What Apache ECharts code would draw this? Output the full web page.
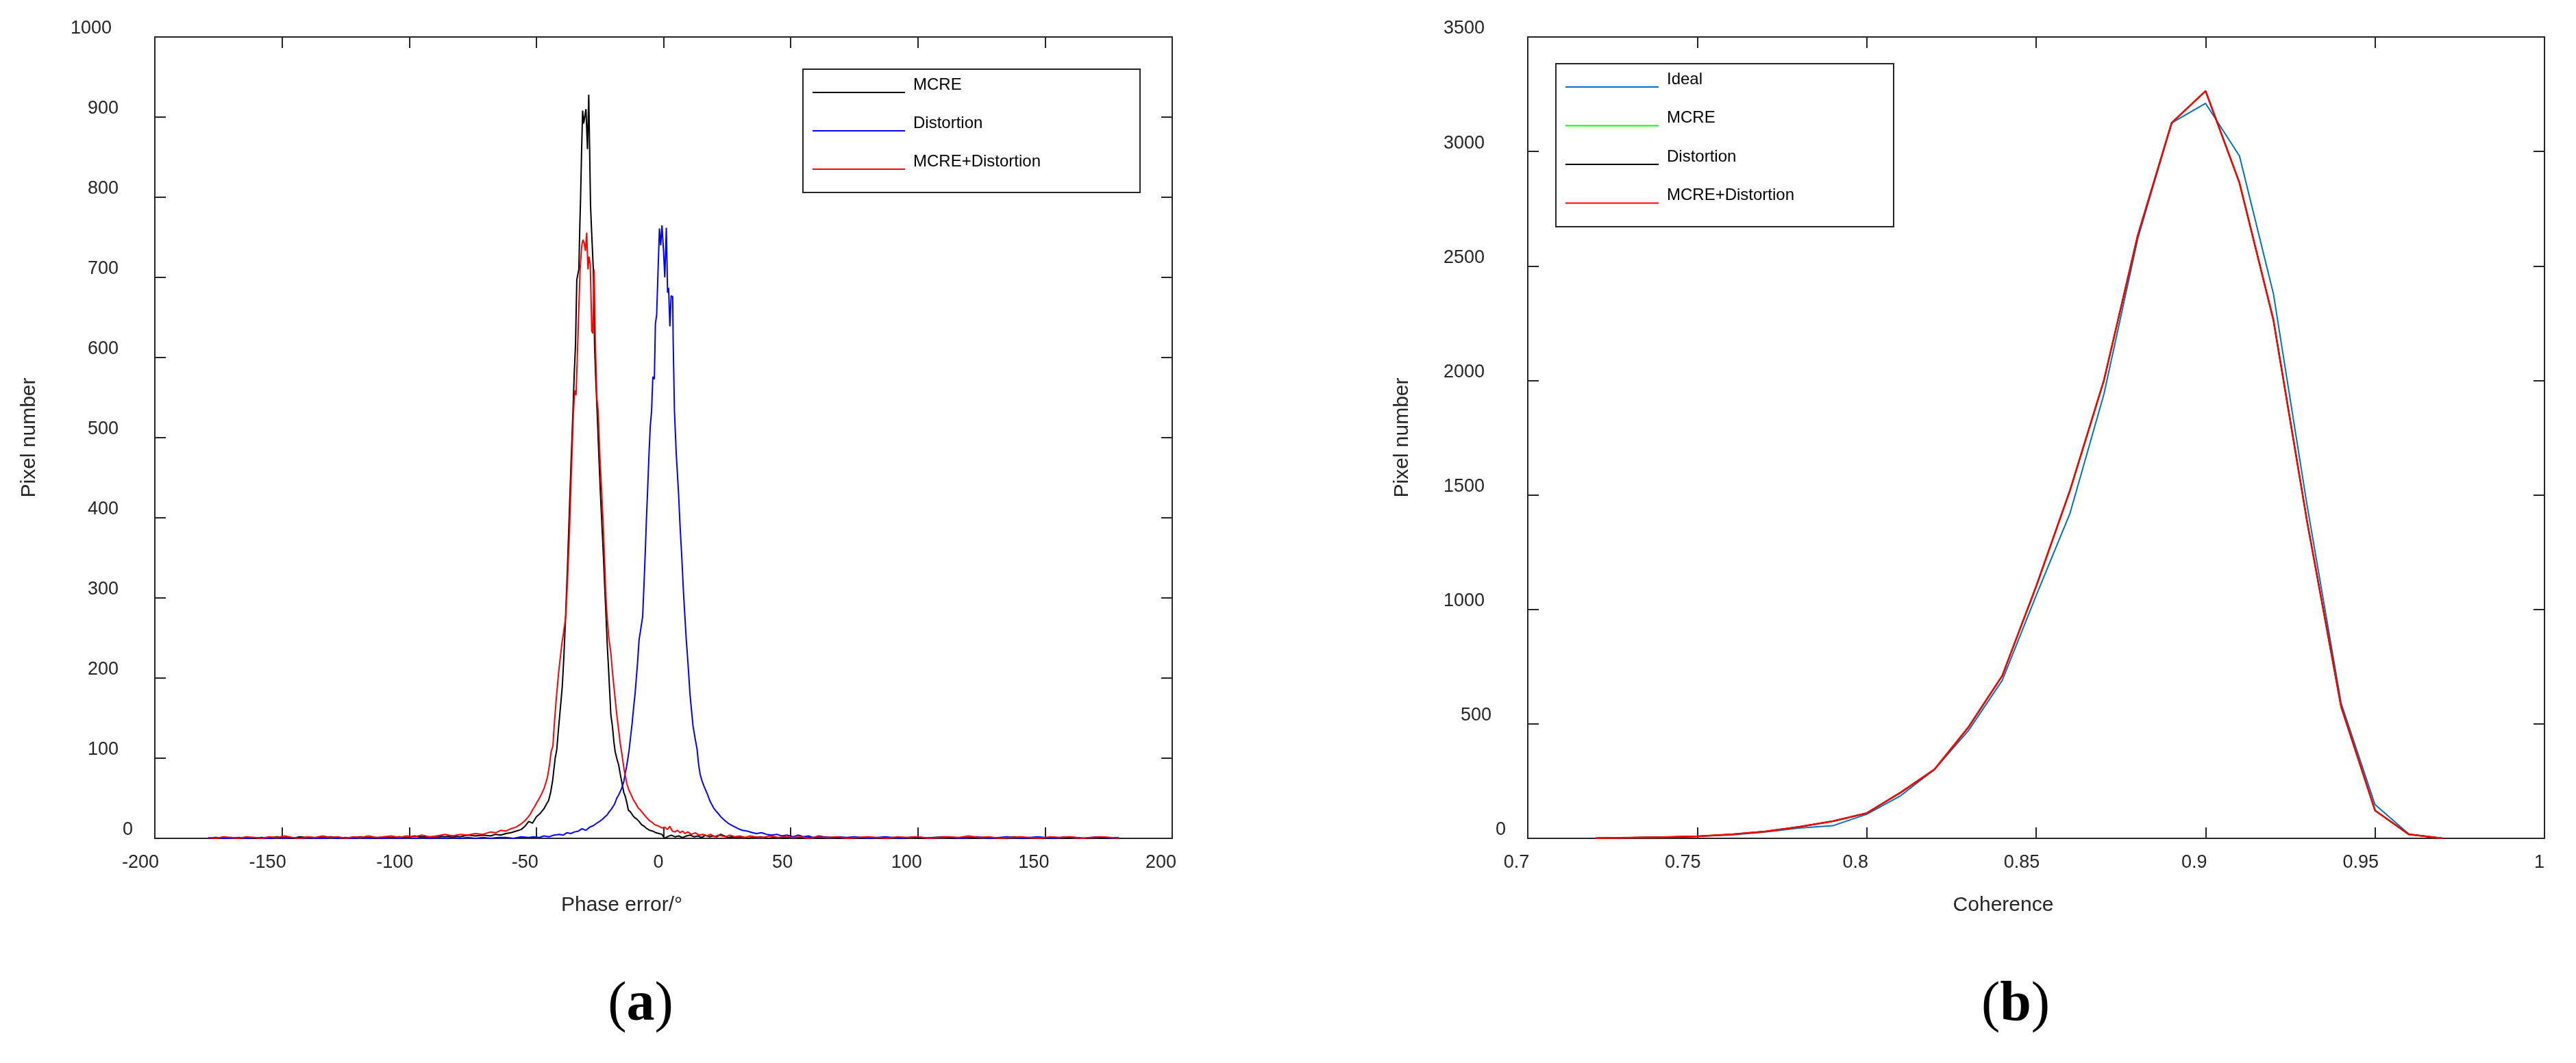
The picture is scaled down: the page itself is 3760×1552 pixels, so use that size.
<!DOCTYPE html>
<html><head><meta charset="utf-8">
<script src="https://cdn.jsdelivr.net/npm/echarts@6/dist/echarts.min.js"></script>
<style>html,body{margin:0;padding:0;background:#fff}#c{width:3760px;height:1552px}</style>
</head><body><div id="c"></div>
<script>
// ---------- Panel (a): phase error histograms ([phase error in deg, pixel number]) ----------
const mcrePhase = [
[-179,0],[-176,1],[-173,0],[-170,1],[-167,0],[-164,1],[-161,0],[-158,1],[-155,0],[-152,2],[-149,1],[-146,0],[-143,2],[-140,1],[-137,0],[-134,1],[-131,2],[-128,1],[-125,0],[-122,1],[-119,2],[-116,1],[-113,0],[-110,2],[-107,1],[-104,2],[-101,1],[-98,3],[-95,2],[-92,1],[-89,3],[-86,2],[-83,3],[-80,2],[-77,4],[-74,3],[-71,4],[-68,3],[-66,5],[-64,4],[-62,6],[-60,7],[-58,9],[-56,11],[-54.5,15],[-53,21],[-51.5,19],[-50,27],[-48.5,31],[-47,37],[-46,43],[-45.2,47],[-44.4,57],[-43.6,72],[-42.6,100],[-42,110],[-41.2,140],[-40.4,168],[-39.8,190],[-39.2,225],[-38.5,277],[-37.8,335],[-37.1,400],[-36.4,465],[-35.6,533],[-35.1,580],[-34.6,616],[-34.1,697],[-33.3,710],[-32.9,765],[-32.6,800],[-32.2,860],[-31.8,908],[-31.4,892],[-31.0,900],[-30.5,910],[-29.9,860],[-29.4,928],[-28.7,790],[-28.2,752],[-27.6,710],[-27.1,613],[-26.6,570],[-26.1,533],[-25.4,475],[-24.8,430],[-24.2,390],[-23.6,350],[-23.1,312],[-22.6,277],[-22.1,240],[-21.6,211],[-21.2,185],[-20.7,154],[-20.1,140],[-19.5,120],[-19.0,108],[-18.4,100],[-17.6,91],[-17.0,80],[-16.4,70],[-15.6,57],[-15.0,52],[-14.4,44],[-13.8,35],[-13.0,33],[-12.2,29],[-11.4,26],[-10.5,24],[-9.6,21],[-8.6,17],[-7.6,15],[-6.5,12],[-5.4,10],[-4.2,9],[-3.0,7],[-1.8,6],[-0.6,5],[0.4,0],[1.5,2],[3,4],[4.5,2],[6,3],[7.5,1],[9,3],[10.5,4],[12,2],[13.5,3],[15,1],[16.5,4],[18,2],[19.5,3],[21,2],[22.5,5],[24,3],[25.5,1],[27,2],[29,1],[31,2],[33,0],[35,1],[38,2],[41,0],[44,1],[47,0],[50,1],[54,0],[58,1],[62,0],[66,1],[70,0],[74,1],[78,0],[82,1],[86,0],[90,1],[94,0],[98,1],[102,0],[106,1],[110,2],[114,0],[118,1],[122,0],[126,1],[130,0],[134,1],[138,2],[142,0],[146,1],[150,0],[154,1],[158,0],[162,1],[166,0],[170,1],[174,0],[178,1]
];
const distPhase = [
[-179,0],[-176,1],[-173,0],[-170,0],[-167,1],[-164,0],[-161,1],[-158,0],[-155,0],[-152,1],[-149,0],[-146,1],[-143,0],[-140,1],[-137,0],[-134,0],[-131,1],[-128,0],[-125,1],[-122,0],[-119,1],[-116,0],[-113,1],[-110,0],[-107,1],[-104,0],[-101,1],[-98,0],[-95,1],[-92,0],[-89,1],[-86,0],[-83,1],[-80,0],[-77,1],[-74,0],[-71,1],[-68,0],[-65,1],[-62,1],[-59,0],[-56,2],[-53,1],[-51,2],[-49,1],[-47,3],[-45,2],[-43,4],[-41,5],[-39.5,4],[-38,7],[-36.5,6],[-35,8],[-33.5,9],[-32,12],[-30.5,10],[-29,14],[-27.5,16],[-26.2,19],[-25.2,21],[-24,24],[-23,27],[-22.2,29],[-21.4,33],[-20.6,36],[-19.8,40],[-19.2,43],[-18.4,50],[-17.5,55],[-16.5,62],[-15.6,71],[-15,82],[-14.5,90],[-14,100],[-13.5,111],[-12.9,128],[-12.3,145],[-11.7,165],[-11.2,180],[-10.7,200],[-10.3,215],[-9.6,248],[-8.9,262],[-8.2,277],[-7.7,315],[-7.2,355],[-6.7,400],[-6.3,431],[-5.7,480],[-5.2,515],[-4.7,533],[-4.2,576],[-3.6,573],[-3.2,642],[-2.7,653],[-2.2,704],[-1.6,761],[-1.1,740],[-0.6,765],[0,733],[0.5,700],[1.1,762],[1.6,681],[2.0,687],[2.5,639],[3.0,677],[3.6,676],[3.8,619],[4.3,533],[5.0,480],[5.9,431],[6.5,390],[7.2,350],[7.8,310],[8.4,277],[8.9,250],[9.4,228],[9.9,205],[10.4,180],[11.0,160],[11.6,140],[12.4,125],[13.2,111],[13.8,92],[14.4,80],[15.1,72],[15.8,66],[16.6,60],[17.4,54],[18.2,47],[19,42],[19.7,38],[20.4,35],[21.5,31],[22.5,27],[23.5,24],[24.6,21],[25.8,18],[27,16],[28.2,14],[29.4,12],[31,10],[33,9],[35,7],[36.6,6],[38.5,7],[40.5,5],[42.5,4],[44.5,5],[46.5,3],[48.5,4],[51,2],[53,4],[55,2],[57,3],[59,1],[61,3],[63,2],[66,1],[69,2],[72,1],[75,2],[78,1],[81,0],[84,1],[87,2],[90,1],[93,0],[96,1],[99,2],[102,1],[105,0],[108,1],[111,2],[114,1],[117,0],[120,1],[123,2],[126,1],[129,0],[132,1],[135,2],[138,1],[141,0],[144,1],[147,2],[150,1],[153,0],[156,1],[159,2],[162,1],[165,0],[168,1],[171,2],[174,1],[177,0],[179,1]
];
const mcreDistPhase = [
[-179,1],[-176,0],[-173,2],[-170,1],[-167,0],[-164,2],[-161,1],[-158,0],[-155,2],[-152,1],[-149,3],[-146,1],[-143,0],[-140,2],[-137,1],[-134,3],[-131,1],[-128,2],[-125,0],[-122,2],[-119,1],[-116,3],[-113,1],[-110,2],[-107,3],[-104,1],[-101,3],[-98,2],[-95,4],[-92,2],[-89,3],[-86,5],[-83,3],[-80,5],[-77,4],[-74,6],[-71,5],[-68,8],[-66,7],[-64,10],[-62,9],[-60,12],[-58,14],[-56,18],[-54.5,22],[-53.4,26],[-52.4,30],[-51.6,35],[-50.6,40],[-49.6,46],[-49,49],[-48,55],[-47,62],[-46.2,70],[-45.6,77],[-44.8,92],[-44.2,108],[-43.5,115],[-43,140],[-42.4,165],[-42,180],[-41.3,205],[-40.6,225],[-40,242],[-39.3,257],[-38.4,277],[-37.7,325],[-37,380],[-36.3,450],[-35.4,533],[-34.9,559],[-34.4,553],[-33.9,600],[-33.3,661],[-32.8,710],[-32.2,738],[-31.7,747],[-31.2,743],[-30.7,733],[-30.2,756],[-29.7,710],[-29.3,726],[-28.8,716],[-28.2,633],[-27.8,630],[-27.3,710],[-26.8,619],[-26.2,550],[-25.7,533],[-25.0,475],[-24.3,431],[-23.7,390],[-23.2,350],[-22.7,305],[-22.2,277],[-21.5,250],[-20.7,231],[-20.0,205],[-19.2,180],[-18.4,155],[-17.6,134],[-17.0,118],[-16.4,106],[-15.5,86],[-14.4,68],[-13.6,60],[-12.8,55],[-12.0,49],[-11.0,44],[-10.0,38],[-9.0,35],[-8.0,31],[-7.2,28],[-6.6,26],[-5.5,22],[-4.5,20],[-3.5,17],[-2.5,16],[-1.8,15],[-0.5,13],[0.5,14],[1.5,11],[2.5,15],[3.5,9],[4.5,8],[5.5,10],[6.5,7],[7.5,9],[8.5,6],[9.5,8],[11,5],[12.5,7],[14,4],[15.5,5],[17,3],[18.5,5],[20,2],[21.5,4],[23,3],[24.5,2],[26,4],[28,2],[30,3],[32,1],[34,3],[36,2],[39,1],[42,3],[45,1],[48,2],[51,1],[54,2],[57,0],[60,2],[64,1],[68,2],[72,0],[76,1],[80,2],[84,1],[88,0],[92,2],[96,1],[100,2],[104,0],[108,1],[112,2],[116,1],[120,3],[124,1],[128,2],[132,0],[136,1],[140,2],[144,1],[148,0],[152,2],[156,1],[160,2],[164,0],[168,1],[172,2],[176,1],[179,0]
];

// ---------- Panel (b): coherence histograms ----------
const coherenceBins = [0.72,0.73,0.74,0.75,0.76,0.77,0.78,0.79,0.80,0.81,0.82,0.83,0.84,0.85,0.86,0.87,0.88,0.89,0.90,0.91,0.92,0.93,0.94,0.95,0.96,0.97];
const idealCoh    = [1,3,5,8,15,28,45,55,105,186,301,470,690,1060,1420,1940,2620,3125,3210,2980,2380,1450,590,147,19,0];
const mcreCoh     = [1,3,5,9,17,30,50,75,110,200,301,485,710,1100,1520,2000,2634,3125,3264,2863,2265,1380,575,122,17,0];
const distCoh     = [1,3,5,9,17,30,50,75,110,200,301,485,710,1100,1520,2000,2634,3125,3264,2863,2265,1380,575,122,17,0];
const mcreDistCoh = [1,3,5,9,17,30,50,75,110,200,301,485,710,1100,1520,2000,2634,3125,3264,2863,2265,1380,575,122,17,0];

// ---------- Axis ranges / labels ----------
const phaseAxis = {min: -200, max: 200, interval: 50};
const pixAAxis  = {min: 0, max: 1000, interval: 100};
const cohAxis   = {min: 0.7, max: 1, interval: 0.05};
const pixBAxis  = {min: 0, max: 3500, interval: 500};
const legendA = ['MCRE', 'Distortion', 'MCRE+Distortion'];
const legendB = ['Ideal', 'MCRE', 'Distortion', 'MCRE+Distortion'];
const ZW = '\u200b';

const AX = '#262626';
const FONT = '"Liberation Sans", Arial, Helvetica, sans-serif';
const fmt = v => String(Number((+v).toFixed(3)));

function richSet(padFn) {
  const r = {};
  for (let n = 1; n <= 5; n++) r['n' + n] = {fontSize: 27, fontFamily: FONT, color: AX, padding: padFn(n)};
  return r;
}
const lineStyle = {color: AX, width: 2};
function xAx(grid, rng, pos, name, padR) {
  const a = {
    type: 'value', gridIndex: grid, position: pos, min: rng.min, max: rng.max, interval: rng.interval,
    axisLine: {show: true, onZero: false, lineStyle},
    axisTick: {show: true, inside: true, length: 16, lineStyle},
    splitLine: {show: false},
    axisLabel: {show: false}
  };
  if (pos === 'bottom') {
    a.axisLabel = {
      show: true, margin: 22, align: 'center',
      formatter: v => { const s = fmt(v); return '{n' + s.length + '|' + s + '}'; },
      rich: richSet(n => [0, 9 * n + 6, 0, 0])
    };
    a.name = name; a.nameLocation = 'middle'; a.nameGap = 83;
    a.nameTextStyle = {fontSize: 30, fontFamily: FONT, color: AX, padding: [0, padR, 0, 0]};
  }
  return a;
}
function yAx(grid, rng, pos) {
  const a = {
    type: 'value', gridIndex: grid, position: pos, min: rng.min, max: rng.max, interval: rng.interval,
    axisLine: {show: true, onZero: false, lineStyle},
    axisTick: {show: true, inside: true, length: 16, lineStyle},
    splitLine: {show: false},
    axisLabel: {show: false}
  };
  if (pos === 'left') {
    a.axisLabel = {
      show: true, margin: 21, align: 'right',
      formatter: v => { const s = fmt(v); return '{n' + s.length + '|' + s + '}'; },
      rich: richSet(n => [0, Math.round(10.5 * n), 24, 0])
    };
    a.name = 'Pixel number'; a.nameLocation = 'middle'; a.nameGap = 168;
    a.nameTextStyle = {fontSize: 30, fontFamily: FONT, color: AX};
  }
  return a;
}
function ln(name, xi, yi, data, color, w) {
  return {name, type: 'line', xAxisIndex: xi, yAxisIndex: yi, data, color,
    symbol: 'none', showSymbol: false, lineStyle: {width: w, color}, emphasis: {disabled: true}, silent: true};
}
const zip = (xs, ys) => xs.map((x, i) => [x, ys[i]]);
const legendText = {fontSize: 24, fontFamily: FONT, color: '#000',
  rich: {t: {fontSize: 24, fontFamily: FONT, color: '#000', padding: [0, 0, 22, 7]}}};
const legendFmt = n => '{t|' + n.replace(ZW, '') + '}';

const chart = echarts.init(document.getElementById('c'), null, {renderer: 'canvas'});
chart.setOption({
  animation: false,
  backgroundColor: '#fff',
  grid: [
    {left: 226, top: 54, width: 1485, height: 1170, containLabel: false, outerBoundsMode: 'none'},
    {left: 2230, top: 54, width: 1484, height: 1170, containLabel: false, outerBoundsMode: 'none'}
  ],
  xAxis: [
    xAx(0, phaseAxis, 'bottom', 'Phase error/°', 122),
    xAx(0, phaseAxis, 'top'),
    xAx(1, cohAxis, 'bottom', 'Coherence', 96),
    xAx(1, cohAxis, 'top')
  ],
  yAxis: [
    yAx(0, pixAAxis, 'left'), yAx(0, pixAAxis, 'right'),
    yAx(1, pixBAxis, 'left'), yAx(1, pixBAxis, 'right')
  ],
  legend: [
    {data: legendA, orient: 'vertical', left: 1186, top: 112, padding: 0, itemWidth: 135, itemHeight: 2,
     itemGap: 32, icon: 'rect', textStyle: legendText, formatter: legendFmt, selectedMode: false},
    {data: legendB.map((n, i) => i === 0 ? n : n + ZW), orient: 'vertical', left: 2285, top: 104, padding: 0,
     itemWidth: 136, itemHeight: 2, itemGap: 32.5, icon: 'rect', textStyle: legendText, formatter: legendFmt, selectedMode: false}
  ],
  graphic: [
    {type: 'rect', shape: {x: 1172, y: 101, width: 492, height: 180}, style: {fill: 'transparent', stroke: AX, lineWidth: 2}, silent: true},
    {type: 'rect', shape: {x: 2271, y: 93, width: 493, height: 238}, style: {fill: 'transparent', stroke: AX, lineWidth: 2}, silent: true},
    {type: 'text', x: 935, y: 1468, silent: true, style: {text: '{p|(}{b|a}{p|)}', align: 'center', verticalAlign: 'middle',
      rich: {p: {fontSize: 82, fontFamily: '"Liberation Serif", "DejaVu Serif", serif', fill: '#000'},
             b: {fontSize: 82, fontWeight: 'bold', fontFamily: '"Liberation Serif", "DejaVu Serif", serif', fill: '#000'}}}},
    {type: 'text', x: 2942, y: 1468, silent: true, style: {text: '{p|(}{b|b}{p|)}', align: 'center', verticalAlign: 'middle',
      rich: {p: {fontSize: 82, fontFamily: '"Liberation Serif", "DejaVu Serif", serif', fill: '#000'},
             b: {fontSize: 82, fontWeight: 'bold', fontFamily: '"Liberation Serif", "DejaVu Serif", serif', fill: '#000'}}}}
  ],
  series: [
    ln(legendA[0], 0, 0, mcrePhase, '#000000', 2),
    ln(legendA[1], 0, 0, distPhase, '#0000FF', 2),
    ln(legendA[2], 0, 0, mcreDistPhase, '#FF0000', 2),
    ln(legendB[0], 2, 2, zip(coherenceBins, idealCoh), '#0072BD', 2),
    ln(legendB[1] + ZW, 2, 2, zip(coherenceBins, mcreCoh), '#00FF00', 2),
    ln(legendB[2] + ZW, 2, 2, zip(coherenceBins, distCoh), '#000000', 2),
    ln(legendB[3] + ZW, 2, 2, zip(coherenceBins, mcreDistCoh), '#FF0000', 2.5)
  ]
});
</script></body></html>
